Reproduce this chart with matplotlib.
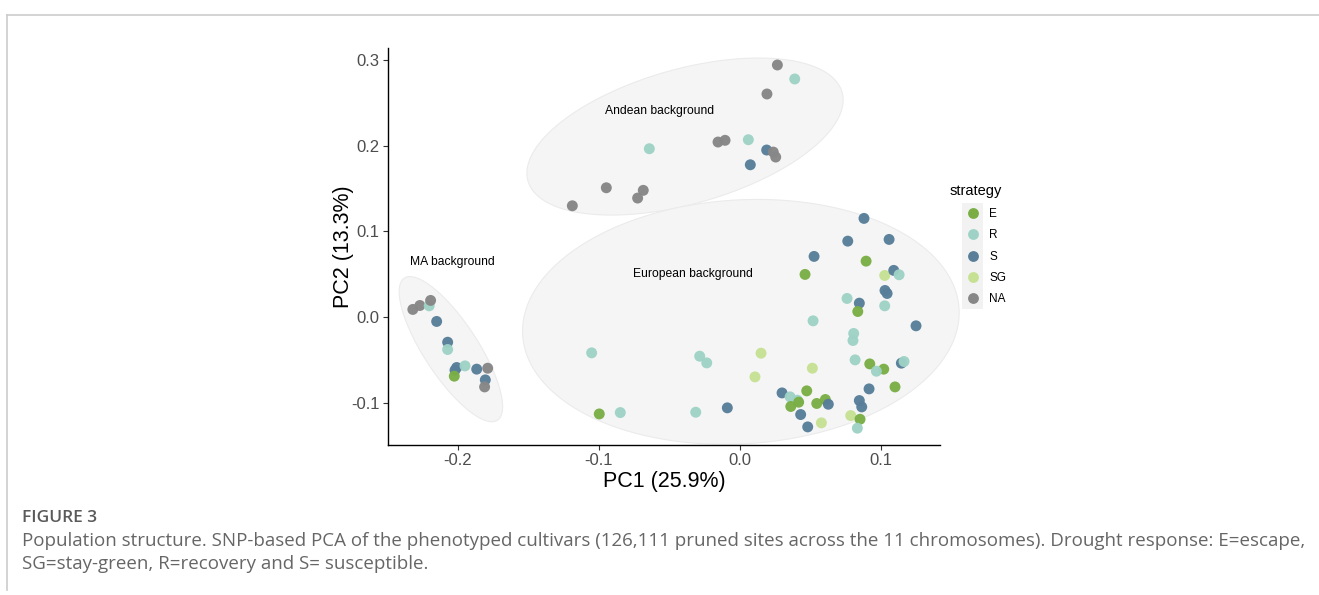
import numpy as np
import matplotlib
matplotlib.use("Agg")
import matplotlib.pyplot as plt
from matplotlib.patches import Rectangle
from matplotlib.lines import Line2D

# ---------------- data ----------------
pc1 = [
    # MA background
    -0.2320, -0.2270, -0.2204, -0.2194, -0.2151, -0.2073, -0.2073, -0.2009, -0.2021, -0.2026,
    -0.1950, -0.1867, -0.1789, -0.1806, -0.1811,
    # Andean background
    0.0265, 0.0388, 0.0191, -0.0643, -0.0156, -0.0106, 0.0059, 0.0189, 0.0236, 0.0253,
    0.0073, -0.0948, -0.0686, -0.0726, -0.1189,
    # European background
    0.0879, 0.0764, 0.1057, 0.0525, 0.0894, 0.0461, 0.1026, 0.1090, 0.1128, 0.1028,
    0.1043, 0.0759, 0.0846, 0.0835, 0.1026, 0.0518, 0.1248, 0.0806, 0.0801, 0.0149,
    0.0816, 0.0920, 0.0513, 0.1019, 0.0967, 0.1144, 0.1163, 0.1099, 0.0915, 0.0298,
    0.0355, 0.0407, 0.0473, 0.0416, 0.0360, 0.0544, 0.0605, 0.0626, 0.0430, 0.0480,
    0.0577, 0.0846, 0.0863, 0.0785, 0.0851, 0.0832, -0.1052, -0.0286, -0.0236, 0.0106,
    -0.0998, -0.0849, -0.0314, -0.0090,
]
pc2 = [
    0.0090, 0.0136, 0.0132, 0.0195, -0.0050, -0.0292, -0.0377, -0.0587, -0.0618, -0.0688,
    -0.0568, -0.0606, -0.0595, -0.0731, -0.0813,
    0.2939, 0.2776, 0.2601, 0.1963, 0.2041, 0.2061, 0.2068, 0.1948, 0.1924, 0.1866,
    0.1776, 0.1508, 0.1478, 0.1388, 0.1298,
    0.1151, 0.0886, 0.0906, 0.0708, 0.0653, 0.0498, 0.0486, 0.0545, 0.0494, 0.0311,
    0.0276, 0.0218, 0.0163, 0.0066, 0.0132, -0.0043, -0.0101, -0.0190, -0.0272, -0.0420,
    -0.0498, -0.0545, -0.0595, -0.0606, -0.0630, -0.0536, -0.0517, -0.0813, -0.0836, -0.0883,
    -0.0929, -0.0968, -0.0859, -0.0991, -0.1041, -0.1006, -0.0960, -0.1015, -0.1135, -0.1279,
    -0.1232, -0.0972, -0.1046, -0.1147, -0.1190, -0.1294, -0.0416, -0.0455, -0.0533, -0.0696,
    -0.1128, -0.1112, -0.1108, -0.1057,
]
strategy = [
    "NA", "NA", "R", "NA", "S", "S", "R", "S", "S", "E",
    "R", "S", "NA", "S", "NA",
    "NA", "R", "NA", "R", "NA", "NA", "R", "S", "NA", "NA",
    "S", "NA", "NA", "NA", "NA",
    "S", "S", "S", "S", "E", "E", "SG", "S", "R", "S",
    "S", "R", "S", "E", "R", "R", "S", "R", "R", "SG",
    "R", "E", "SG", "E", "R", "S", "R", "E", "S", "S",
    "R", "R", "E", "E", "E", "E", "E", "S", "S", "S",
    "SG", "S", "S", "SG", "E", "R", "R", "R", "R", "SG",
    "E", "R", "R", "S",
]
strategy_levels = ["E", "R", "S", "SG", "NA"]

# group ellipses: centre and two conjugate semi-axis vectors (data units)
ellipse_names = ["MA background", "Andean background", "European background"]
ellipse_center = [(-0.2050, -0.0373), (-0.0390, 0.2105), (0.0006, -0.0055)]
ellipse_axis_a = [(0.0330, -0.0828), (0.1121, 0.0426), (0.1548, 0.0107)]
ellipse_axis_b = [(0.0160, 0.0173), (0.0000, 0.0810), (0.0000, 0.1423)]
label_pos = [(-0.2043, 0.0641), (-0.0567, 0.2402), (-0.0333, 0.0501)]

x_ticks = [-0.2, -0.1, 0.0, 0.1]
y_ticks = [-0.1, 0.0, 0.1, 0.2, 0.3]

palette = {"E": "#7aae45", "R": "#9ed2c6", "S": "#587e99", "SG": "#c6e193", "NA": "#878787"}

# ---------------- figure ----------------
W, H = 1319, 595
fig = plt.figure(figsize=(W / 100, H / 100), dpi=100)
plt.rcParams["font.family"] = ["Liberation Sans", "DejaVu Sans"]

ax = fig.add_axes([388 / W, 1 - 445 / H, 552 / W, 397 / H])

t = np.linspace(0, 2 * np.pi, 300)
for c, a, b in zip(ellipse_center, ellipse_axis_a, ellipse_axis_b):
    ex = c[0] + a[0] * np.cos(t) + b[0] * np.sin(t)
    ey = c[1] + a[1] * np.cos(t) + b[1] * np.sin(t)
    ax.fill(ex, ey, facecolor="#f5f5f5", edgecolor="#ebebeb", lw=0.8, zorder=1,
            clip_on=False)

for name, (lx, ly) in zip(ellipse_names, label_pos):
    ax.text(lx, ly, name, ha="center", va="center", fontsize=8.7, color="black", zorder=3)

cols = [palette[s] for s in strategy]
ax.scatter(pc1, pc2, c=cols, s=62, edgecolors="none", alpha=0.97, zorder=2, clip_on=False)

ax.set_xlim(-0.2496, 0.1418)
ax.set_ylim(-0.149, 0.3137)
ax.set_xticks(x_ticks)
ax.set_xticklabels([f"{v:.1f}" for v in x_ticks])
ax.set_yticks(y_ticks)
ax.set_yticklabels([f"{v:.1f}" for v in y_ticks])
ax.tick_params(axis="both", length=3.5, width=0.8, color="#333333", labelsize=12,
               labelcolor="#4d4d4d", pad=2.5)
for s in ["top", "right"]:
    ax.spines[s].set_visible(False)
for s in ["left", "bottom"]:
    ax.spines[s].set_linewidth(1.0)
    ax.spines[s].set_color("black")
ax.set_xlabel("PC1 (25.9%)", fontsize=15.5, labelpad=2)
ax.set_ylabel("PC2 (13.3%)", fontsize=15.5, labelpad=-2)
ax.set_facecolor("none")

# legend
handles = [Line2D([], [], marker="o", linestyle="none", markersize=7.8,
                  markerfacecolor=palette[k], markeredgecolor="none") for k in strategy_levels]
fig.patches.append(Rectangle((962 / W, 1 - 309 / H), 21 / W, 106 / H,
                             transform=fig.transFigure, facecolor="#f2f2f2",
                             edgecolor="none", zorder=0))
fig.text(950 / W, 1 - 190.5 / H, "strategy", fontsize=10.5, ha="left", va="center")
leg = fig.legend(handles, strategy_levels, loc="upper left",
                 bbox_to_anchor=(965.5 / W, 1 - 208 / H), frameon=False,
                 fontsize=8.5, handlelength=1.2, handletextpad=0.83, labelspacing=0.79,
                 borderpad=0.0, borderaxespad=0.0)

# figure frame
fig.add_artist(Line2D([7 / W, 7 / W], [1 - 590 / H, 1 - 14.5 / H], color="#cccccc", lw=1.2,
                      transform=fig.transFigure))
fig.add_artist(Line2D([7 / W, 1.0], [1 - 14.5 / H, 1 - 14.5 / H], color="#cccccc", lw=1.2,
                      transform=fig.transFigure))

# caption
fig.text(22 / W, 1 - 518 / H, "FIGURE 3", family=["Open Sans", "DejaVu Sans"],
         fontsize=12.5, color="#5a5a5a", va="center", ha="left", fontweight="semibold")
fig.text(22 / W, 1 - 541 / H,
         "Population structure. SNP-based PCA of the phenotyped cultivars (126,111 pruned sites "
         "across the 11 chromosomes). Drought response: E=escape,",
         family=["Open Sans", "DejaVu Sans"], fontsize=13.5, color="#666666", va="center", ha="left")
fig.text(22 / W, 1 - 564 / H, "SG=stay-green, R=recovery and S= susceptible.",
         family=["Open Sans", "DejaVu Sans"], fontsize=13.5, color="#666666", va="center", ha="left")

fig.savefig("out.png", dpi=100)
